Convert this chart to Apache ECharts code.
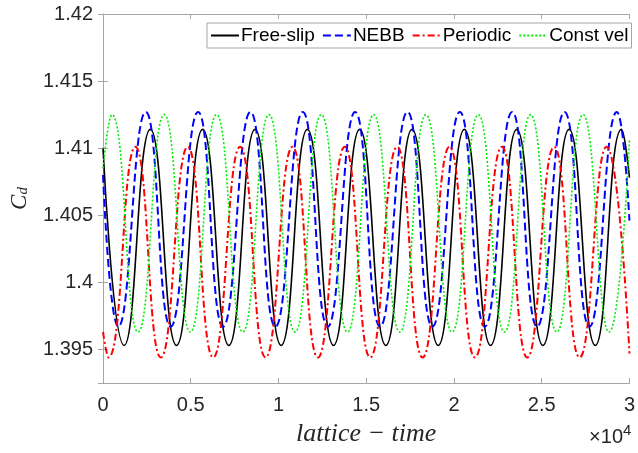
<!DOCTYPE html>
<html>
<head>
<meta charset="utf-8">
<script src="https://cdn.jsdelivr.net/npm/echarts@6/dist/echarts.min.js"></script>
<style>html,body{margin:0;padding:0;background:#fff;}#c{width:638px;height:453px;}</style>
</head>
<body>
<div id="c"></div>
<script>
// Tick labels
const xTickLabels = ['0', '0.5', '1', '1.5', '2', '2.5', '3'];
const seriesNames = ['Free-slip', 'NEBB', 'Periodic', 'Const vel'];

// [lattice time, Cd] (extrema + end points)
const freeSlip = [
  [0, 1.4100], [1205, 1.3953], [2697, 1.4114], [4188, 1.3953], [5680, 1.4114],
  [7171, 1.3953], [8663, 1.4114], [10154, 1.3953], [11646, 1.4114], [13137, 1.3953],
  [14629, 1.4114], [16120, 1.3953], [17612, 1.4114], [19103, 1.3953], [20595, 1.4114],
  [22086, 1.3953], [23578, 1.4114], [25069, 1.3953], [26561, 1.4114], [28052, 1.3953],
  [29544, 1.4114], [30000, 1.4078]
];
const nebb = [
  [0, 1.4080], [875, 1.3967], [2437, 1.4127], [3858, 1.3967], [5420, 1.4127],
  [6841, 1.3967], [8403, 1.4127], [9824, 1.3967], [11386, 1.4127], [12807, 1.3967],
  [14369, 1.4127], [15790, 1.3967], [17352, 1.4127], [18773, 1.3967], [20335, 1.4127],
  [21756, 1.3967], [23318, 1.4127], [24739, 1.3967], [26301, 1.4127], [27722, 1.3967],
  [29284, 1.4127], [30000, 1.4046]
];
const periodic = [
  [0, 1.3963], [315, 1.3944], [1847, 1.4101], [3298, 1.3944], [4830, 1.4101],
  [6281, 1.3944], [7813, 1.4101], [9264, 1.3944], [10796, 1.4101], [12247, 1.3944],
  [13779, 1.4101], [15230, 1.3944], [16762, 1.4101], [18213, 1.3944], [19745, 1.4101],
  [21196, 1.3944], [22728, 1.4101], [24179, 1.3944], [25711, 1.4101], [27162, 1.3944],
  [28694, 1.4101], [30000, 1.3947]
];
const constVel = [
  [0, 1.4085], [505, 1.4125], [1997, 1.3963], [3488, 1.4125], [4980, 1.3963],
  [6471, 1.4125], [7963, 1.3963], [9454, 1.4125], [10946, 1.3963], [12437, 1.4125],
  [13929, 1.3963], [15420, 1.4125], [16912, 1.3963], [18403, 1.4125], [19895, 1.3963],
  [21386, 1.4125], [22878, 1.3963], [24369, 1.4125], [25861, 1.3963], [27352, 1.4125],
  [28844, 1.3963], [30000, 1.4106]
];

const axisGray = '#a6a6a6';
const textCol = '#262626';
const font = 'Liberation Sans, Arial, sans-serif';
const serif = 'Liberation Serif, DejaVu Serif, serif';

const chart = echarts.init(document.getElementById('c'), null, {renderer: 'canvas'});

function mkSeries(name, data, color, width, type) {
  return {
    name: name, type: 'line', data: data, smooth: 0.5, symbol: 'none',
    xAxisIndex: 0, yAxisIndex: 0,
    lineStyle: {color: color, width: width, type: type},
    itemStyle: {color: color},
    emphasis: {disabled: true}, animation: false, z: 3
  };
}

chart.setOption({
  animation: false,
  backgroundColor: '#fff',
  grid: {left: 100, right: 4, top: 14, bottom: 70, containLabel: false},
  legend: {
    data: seriesNames,
    left: 207, top: 23,
    orient: 'horizontal',
    itemWidth: 28, itemHeight: 10, itemGap: 7,
    padding: [3, 3, 3, 3],
    borderColor: axisGray, borderWidth: 1, backgroundColor: '#fff',
    itemStyle: {opacity: 0},
    textStyle: {fontSize: 19, color: '#000', fontFamily: font, padding: [0, 0, 0, -3]},
    selectedMode: false
  },
  xAxis: [{
    type: 'value', min: 0, max: 30000, interval: 5000, position: 'bottom',
    name: 'lattice \u2212 time', nameLocation: 'middle', nameGap: 38,
    nameTextStyle: {fontFamily: serif, fontStyle: 'italic', fontSize: 26, color: textCol},
    axisLine: {show: true, lineStyle: {color: axisGray, width: 1}},
    axisTick: {show: true, inside: true, length: 5, lineStyle: {color: axisGray}},
    axisLabel: {fontSize: 20, color: textCol, fontFamily: font, margin: 12,
      formatter: function (v) { return xTickLabels[Math.round(v / 5000)]; }},
    splitLine: {show: false}
  }, {
    type: 'value', min: 0, max: 30000, interval: 5000, position: 'top',
    axisLine: {show: true, lineStyle: {color: axisGray, width: 1}},
    axisTick: {show: true, inside: true, length: 5, lineStyle: {color: axisGray}},
    axisLabel: {show: false}, splitLine: {show: false}
  }],
  yAxis: [{
    type: 'value', min: 1.3925, max: 1.42, splitNumber: 5, position: 'left',
    name: '{c|C}{d|d}', nameLocation: 'middle', nameGap: 72, nameRotate: 90,
    nameTextStyle: {rich: {
      c: {fontFamily: serif, fontStyle: 'italic', fontSize: 23, color: textCol},
      d: {fontFamily: serif, fontStyle: 'italic', fontSize: 15, color: textCol, verticalAlign: 'bottom', padding: [8, 0, 0, 0]}
    }},
    axisLine: {show: true, lineStyle: {color: axisGray, width: 1}},
    axisTick: {show: true, inside: true, length: 5, lineStyle: {color: axisGray}},
    axisLabel: {fontSize: 20, color: textCol, fontFamily: font, margin: 10, showMinLabel: false,
      formatter: function (v) { return String(Math.round(v * 1000) / 1000); }},
    splitLine: {show: false}
  }, {
    type: 'value', min: 1.3925, max: 1.42, splitNumber: 5, position: 'right',
    axisLine: {show: true, lineStyle: {color: axisGray, width: 1}},
    axisTick: {show: true, inside: true, length: 5, lineStyle: {color: axisGray}},
    axisLabel: {show: false}, splitLine: {show: false}
  }],
  graphic: [{
    type: 'text', x: 623, y: 447,
    style: {text: '\u00d710', fontSize: 20, fontFamily: font, fill: textCol,
      align: 'right', verticalAlign: 'bottom'}
  }, {
    type: 'text', x: 623, y: 423,
    style: {text: '4', fontSize: 15, fontFamily: font, fill: textCol,
      align: 'left', verticalAlign: 'top'}
  }],
  series: [
    mkSeries(seriesNames[0], freeSlip, '#000000', 1.6, 'solid'),
    mkSeries(seriesNames[1], nebb, '#0000ff', 2, [8, 4]),
    mkSeries(seriesNames[2], periodic, '#ff0000', 2, [7, 3, 2, 3]),
    mkSeries(seriesNames[3], constVel, '#00ee00', 1.6, [2, 2])
  ]
});
</script>
</body>
</html>
